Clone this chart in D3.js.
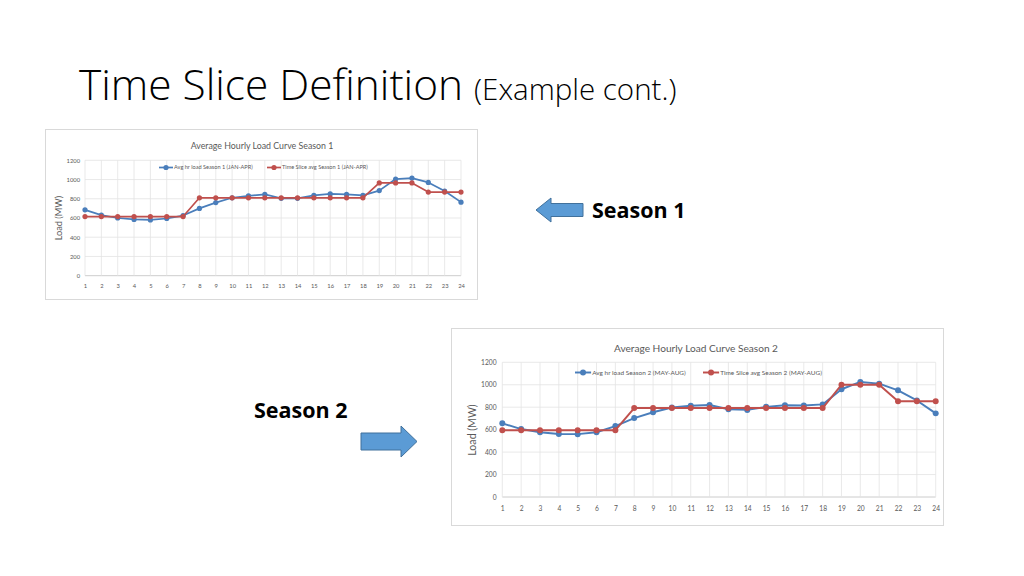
<!DOCTYPE html>
<html>
<head>
<meta charset="utf-8">
<script src="https://cdn.jsdelivr.net/npm/d3@7"></script>
<style>
  body { margin: 0; background: #fff; }
  svg { display: block; }
</style>
</head>
<body>
<svg id="slide" width="1024" height="576"></svg>
<script>
// hours on the x axis
var hours = d3.range(1, 25);
var yTicks = [0, 200, 400, 600, 800, 1000, 1200];

// Season 1 (JAN-APR)
var avgLoadS1 = [685, 630, 600, 585, 580, 595, 625, 700, 760, 810, 830, 845,
                 805, 805, 835, 850, 845, 835, 885, 1005, 1015, 970, 880, 765];
var sliceAvgS1 = [615, 615, 615, 615, 615, 615, 615, 810, 810, 810, 810, 810,
                  810, 810, 810, 810, 810, 810, 965, 965, 965, 870, 870, 870];

// Season 2 (MAY-AUG)
var avgLoadS2 = [656, 605, 577, 562, 560, 577, 632, 703, 755, 797, 813, 820,
                 782, 776, 803, 818, 815, 825, 960, 1025, 1010, 950, 860, 745];
var sliceAvgS2 = [595, 595, 595, 595, 595, 595, 595, 792, 792, 792, 792, 792,
                  792, 792, 792, 792, 792, 792, 1000, 1000, 1000, 853, 853, 853];

var BLUE = "#4a7ebb", RED = "#c0504d";
var chartFont = "Lato, 'Open Sans', sans-serif";

var svg = d3.select("#slide");

// slide title
var title = svg.append("text")
  .attr("x", 79).attr("y", 100)
  .style("font-family", "'Open Sans', sans-serif")
  .style("font-weight", 300)
  .style("fill", "#000");
title.append("tspan").style("font-size", "42.4px").text("Time Slice Definition ");
title.append("tspan").style("font-size", "29.5px").text("(Example cont.)");

function drawChart(o) {
  var g = svg.append("g");
  // chart frame
  g.append("rect")
    .attr("x", o.box[0]).attr("y", o.box[1])
    .attr("width", o.box[2]).attr("height", o.box[3])
    .attr("fill", "#fff").attr("stroke", "#d9d9d9").attr("stroke-width", 1);

  var x = d3.scaleLinear().domain([1, 24]).range([o.plot[0], o.plot[1]]);
  var y = d3.scaleLinear().domain([0, 1200]).range([o.plot[3], o.plot[2]]);
  var k = o.k;

  // grid
  g.append("g").selectAll("line").data(yTicks).join("line")
    .attr("x1", o.plot[0]).attr("x2", o.plot[1])
    .attr("y1", d => y(d)).attr("y2", d => y(d))
    .attr("stroke", d => d === 0 ? "#bfbfbf" : "#e3e3e3").attr("stroke-width", 0.8);
  g.append("g").selectAll("line").data(hours).join("line")
    .attr("x1", d => x(d)).attr("x2", d => x(d))
    .attr("y1", o.plot[2]).attr("y2", o.plot[3])
    .attr("stroke", "#e3e3e3").attr("stroke-width", 0.8);

  // axes labels
  var yAxis = d3.axisLeft(y).tickValues(yTicks).tickSize(0).tickPadding(5 * k).tickFormat(d3.format("d"));
  var ya = g.append("g").attr("transform", `translate(${o.plot[0]},0)`).call(yAxis);
  var xAxis = d3.axisBottom(x).tickValues(hours).tickSize(0).tickPadding(8 * k).tickFormat(d3.format("d"));
  var xa = g.append("g").attr("transform", `translate(0,${o.plot[3]})`).call(xAxis);
  [ya, xa].forEach(a => {
    a.select(".domain").remove();
    a.selectAll("text").style("font-family", chartFont).style("font-size", (5.8 * k) + "px").attr("fill", "#595959");
  });

  g.append("text")
    .attr("transform", `translate(${o.ylab[0]},${o.ylab[1]}) rotate(-90)`)
    .attr("text-anchor", "middle")
    .style("font-family", chartFont)
    .style("font-size", (9.2 * k) + "px").attr("fill", "#595959")
    .text("Load (MW)");

  g.append("text")
    .attr("x", o.title[0]).attr("y", o.title[1])
    .attr("text-anchor", "middle")
    .style("font-family", chartFont)
    .style("font-size", (8.8 * k) + "px").attr("fill", "#595959")
    .text(o.titleText);

  var line = d3.line().x((d, i) => x(hours[i])).y(d => y(d));
  var series = [
    { vals: o.avg, color: BLUE, name: o.avgName, lx: o.legend[0] },
    { vals: o.slice, color: RED, name: o.sliceName, lx: o.legend[1] }
  ];
  series.forEach(s => {
    g.append("path").datum(s.vals)
      .attr("d", line).attr("fill", "none")
      .attr("stroke", s.color).attr("stroke-width", 1.7 * k)
      .attr("stroke-linejoin", "round");
    g.append("g").selectAll("circle").data(s.vals).join("circle")
      .attr("cx", (d, i) => x(hours[i])).attr("cy", d => y(d))
      .attr("r", 2.6 * k).attr("fill", s.color);
  });

  // legend
  series.forEach(s => {
    var ly = o.legend[2];
    g.append("line")
      .attr("x1", s.lx).attr("x2", s.lx + 14 * k)
      .attr("y1", ly).attr("y2", ly)
      .attr("stroke", s.color).attr("stroke-width", 1.7 * k);
    g.append("circle").attr("cx", s.lx + 7 * k).attr("cy", ly).attr("r", 2.6 * k).attr("fill", s.color);
    g.append("text")
      .attr("x", s.lx + 15 * k).attr("y", ly).attr("dy", "0.35em")
      .style("font-family", chartFont)
      .style("font-size", (5.6 * k) + "px").attr("fill", "#595959")
      .text(s.name);
  });
}

drawChart({
  box: [45.5, 129.5, 432, 170],
  plot: [85, 461, 160.3, 275.7],
  k: 1,
  ylab: [62, 218],
  title: [262, 149],
  titleText: "Average Hourly Load Curve Season 1",
  avg: avgLoadS1, slice: sliceAvgS1,
  avgName: "Avg hr load Season 1 (JAN-APR)",
  sliceName: "Time Slice avg Season 1 (JAN-APR)",
  legend: [159, 267, 167.5]
});

drawChart({
  box: [451.5, 328.5, 492, 197],
  plot: [502.3, 935.7, 362.3, 497],
  k: 1.15,
  ylab: [476, 430],
  title: [696, 352],
  titleText: "Average Hourly Load Curve Season 2",
  avg: avgLoadS2, slice: sliceAvgS2,
  avgName: "Avg hr load Season 2 (MAY-AUG)",
  sliceName: "Time Slice avg Season 2 (MAY-AUG)",
  legend: [575, 703, 372.5]
});

// block arrows with season labels
var arrowFill = "#5b9bd5", arrowStroke = "#41719c";
function blockArrow(x0, x1, yc, h, shaftH, headW, dir) {
  var p = d3.path();
  var half = h / 2, sh = shaftH / 2;
  if (dir < 0) {
    p.moveTo(x0, yc);
    p.lineTo(x0 + headW, yc - half);
    p.lineTo(x0 + headW, yc - sh);
    p.lineTo(x1, yc - sh);
    p.lineTo(x1, yc + sh);
    p.lineTo(x0 + headW, yc + sh);
    p.lineTo(x0 + headW, yc + half);
  } else {
    p.moveTo(x1, yc);
    p.lineTo(x1 - headW, yc - half);
    p.lineTo(x1 - headW, yc - sh);
    p.lineTo(x0, yc - sh);
    p.lineTo(x0, yc + sh);
    p.lineTo(x1 - headW, yc + sh);
    p.lineTo(x1 - headW, yc + half);
  }
  p.closePath();
  svg.append("path").attr("d", p.toString())
    .attr("fill", arrowFill).attr("stroke", arrowStroke).attr("stroke-width", 1);
}
blockArrow(536, 583, 210, 24, 13, 15, -1);
blockArrow(361, 417, 441.5, 31, 17, 16, 1);

svg.append("text").attr("x", 592).attr("y", 218)
  .style("font-family", "'Open Sans', sans-serif").style("font-weight", 700)
  .style("font-size", "21.5px").text("Season 1");
svg.append("text").attr("x", 254).attr("y", 418)
  .style("font-family", "'Open Sans', sans-serif").style("font-weight", 700)
  .style("font-size", "21.5px").text("Season 2");
</script>
</body>
</html>
